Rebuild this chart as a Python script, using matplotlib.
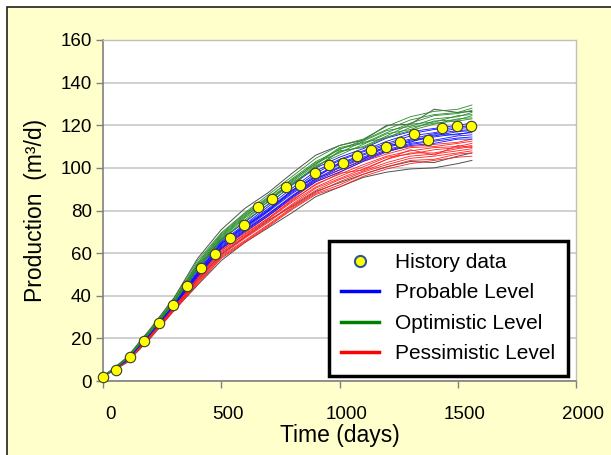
import matplotlib
matplotlib.use("Agg")
import matplotlib.pyplot as plt
import matplotlib.transforms as mtransforms
from matplotlib.patches import Rectangle
from matplotlib.lines import Line2D

plt.rcParams['font.family'] = ['Liberation Sans', 'DejaVu Sans']

# history data
hist_t = [0, 55, 115, 175, 235, 295, 355, 415, 475, 535, 595, 655, 715, 775, 835,
          895, 955, 1015, 1075, 1135, 1195, 1255, 1315, 1375, 1435, 1495, 1555]
hist_q = [2.0, 5.2, 11.4, 18.9, 27.3, 35.6, 44.6, 53.1, 59.5, 67.1, 73.4, 81.5, 85.5,
          90.9, 92.1, 97.4, 101.2, 102.2, 105.8, 108.5, 109.6, 112.1, 116.1, 113.2,
          118.6, 119.7, 119.7]

# simulated runs, sampled at these times
sim_t = [0, 100, 200, 300, 400, 500, 600, 700, 800, 900, 1000, 1100, 1200, 1300, 1400, 1500, 1560]

gray_runs = [
    [2, 11.0, 24.5, 39.0, 57.5, 71.0, 81.0, 88.5, 97.5, 106.0, 110.5, 113.0, 120.0, 120.5, 127.5, 126.0, 126.5],
    [2, 8.5, 20.0, 33.0, 45.0, 56.5, 65.0, 72.0, 79.0, 86.5, 91.0, 95.5, 98.0, 99.5, 100.0, 102.0, 103.5],
    [2, 9.2, 21.0, 34.0, 47.5, 59.5, 67.5, 75.5, 82.0, 89.0, 93.0, 97.0, 100.5, 103.0, 102.5, 105.5, 107.0],
]

optimistic_runs = [
    [2, 10.8, 24.0, 38.5, 56.5, 69.5, 79.0, 87.5, 96.0, 104.5, 110.5, 113.5, 119.5, 124.0, 126.5, 127.5, 129.5],
    [2, 10.6, 23.6, 37.8, 55.0, 68.5, 78.0, 86.0, 95.0, 103.0, 108.5, 113.0, 118.0, 122.5, 125.0, 126.0, 128.0],
    [2, 10.5, 23.4, 37.5, 54.5, 67.5, 77.0, 85.5, 93.5, 101.5, 109.0, 111.5, 116.5, 121.0, 124.5, 125.5, 127.0],
    [2, 10.4, 23.2, 37.0, 53.5, 67.0, 76.5, 84.0, 94.0, 102.5, 107.0, 112.5, 117.5, 119.5, 123.0, 124.0, 126.0],
    [2, 10.3, 23.0, 36.8, 53.0, 66.5, 75.5, 84.5, 92.5, 100.5, 107.5, 110.0, 115.0, 120.5, 121.5, 124.5, 125.0],
    [2, 10.2, 22.8, 36.5, 52.5, 66.0, 75.0, 83.0, 92.0, 101.0, 106.0, 111.0, 116.0, 118.0, 122.0, 122.5, 124.5],
    [2, 10.4, 23.3, 37.2, 54.0, 68.0, 77.5, 85.0, 93.0, 100.0, 108.0, 109.5, 114.5, 117.5, 120.5, 123.0, 123.5],
    [2, 10.6, 23.5, 37.6, 55.5, 69.0, 78.5, 86.5, 94.5, 102.0, 109.5, 112.0, 114.0, 119.0, 121.0, 122.0, 123.0],
]

probable_runs = [
    [2, 10.2, 22.9, 36.6, 53.0, 66.5, 74.5, 83.0, 92.0, 100.0, 105.0, 109.0, 114.0, 117.0, 118.5, 120.0, 121.0],
    [2, 10.1, 22.7, 36.3, 52.5, 65.5, 73.5, 82.0, 90.5, 98.5, 104.0, 108.0, 112.5, 116.0, 118.0, 119.0, 120.0],
    [2, 10.0, 22.6, 36.1, 51.5, 65.0, 73.0, 81.0, 89.5, 97.5, 103.5, 107.5, 111.5, 115.0, 116.5, 118.5, 119.0],
    [2, 10.0, 22.5, 36.0, 51.0, 64.5, 72.5, 80.5, 89.0, 96.5, 102.0, 106.5, 111.0, 113.5, 116.0, 117.5, 118.0],
    [2, 9.9, 22.4, 35.8, 50.5, 64.0, 72.0, 80.0, 88.5, 96.0, 101.5, 106.0, 110.0, 113.0, 115.0, 117.0, 117.5],
    [2, 9.9, 22.3, 35.6, 50.0, 63.5, 71.5, 79.5, 88.0, 95.0, 100.5, 105.0, 109.5, 112.5, 114.5, 116.0, 116.5],
    [2, 9.8, 22.2, 35.5, 49.5, 63.0, 71.0, 78.5, 87.0, 94.5, 100.0, 104.5, 108.5, 111.5, 113.0, 115.0, 115.5],
    [2, 9.8, 22.1, 35.3, 49.5, 62.5, 70.5, 78.0, 86.5, 94.0, 99.0, 103.5, 108.0, 111.0, 112.5, 114.0, 114.5],
    [2, 9.7, 22.0, 35.2, 49.0, 62.0, 70.0, 77.5, 86.0, 93.5, 98.0, 103.0, 107.5, 110.5, 111.5, 113.5, 113.5],
    [2, 9.8, 22.3, 35.6, 50.5, 64.5, 72.5, 80.0, 89.5, 95.5, 102.5, 104.0, 110.5, 112.0, 115.5, 115.5, 117.0],
]

pessimistic_runs = [
    [2, 9.6, 21.6, 34.8, 50.0, 62.5, 70.5, 78.5, 86.5, 95.0, 99.0, 104.0, 108.0, 110.0, 111.0, 112.0, 113.5],
    [2, 9.5, 21.4, 34.5, 49.5, 62.0, 69.5, 77.5, 85.5, 93.5, 98.0, 103.0, 106.5, 109.5, 110.0, 111.5, 112.5],
    [2, 9.4, 21.2, 34.2, 48.5, 61.0, 69.0, 76.5, 84.5, 92.5, 97.0, 101.5, 105.5, 108.0, 109.5, 110.0, 111.5],
    [2, 9.3, 21.0, 34.0, 48.0, 60.5, 68.0, 76.0, 84.0, 91.0, 96.0, 100.5, 105.0, 106.5, 108.5, 109.5, 110.5],
    [2, 9.3, 20.9, 33.8, 47.5, 60.0, 67.5, 75.0, 83.0, 90.5, 95.0, 99.5, 104.0, 107.0, 107.0, 109.0, 110.0],
    [2, 9.2, 20.8, 33.6, 47.0, 59.0, 67.0, 74.5, 82.5, 89.5, 94.5, 98.5, 102.5, 105.5, 106.5, 108.0, 109.0],
    [2, 9.2, 20.7, 33.4, 46.5, 58.5, 66.0, 73.5, 81.5, 88.5, 93.5, 98.0, 101.5, 104.5, 105.5, 107.0, 108.0],
    [2, 9.1, 20.6, 33.2, 46.0, 58.0, 65.5, 73.0, 81.0, 88.0, 92.0, 97.0, 100.5, 103.5, 104.0, 106.5, 107.0],
    [2, 9.0, 20.4, 33.0, 45.5, 57.5, 65.0, 72.5, 80.5, 87.5, 91.0, 96.0, 99.5, 102.0, 103.5, 105.0, 105.5],
    [2, 9.3, 21.1, 34.1, 48.5, 61.5, 68.5, 76.5, 85.0, 92.0, 97.5, 99.0, 104.0, 108.5, 106.0, 110.5, 109.5],
]

x_ticks = [0, 500, 1000, 1500, 2000]
y_ticks = [0, 20, 40, 60, 80, 100, 120, 140, 160]

fig = plt.figure(figsize=(6.11, 4.55), dpi=100, facecolor='white')
# slide panel behind everything
panel = Rectangle((6.5 / 611, -0.1), 1.2, (455 - 7) / 455 + 0.1,
                  transform=fig.transFigure, facecolor='#FFFFCC',
                  edgecolor='#202020', lw=1.2, zorder=-10)
fig.add_artist(panel)

ax = fig.add_axes([103 / 611, (455 - 381) / 455, 473 / 611, 341 / 455])
ax.set_zorder(1)
ax.set_facecolor('white')

for run in gray_runs:
    ax.plot(sim_t, run, color='#505050', lw=0.7, zorder=2)
for run in pessimistic_runs:
    ax.plot(sim_t, run, color='#FF2020', lw=0.6, zorder=3)
for run in probable_runs:
    ax.plot(sim_t, run, color='#1010FF', lw=0.6, zorder=3)
for run in optimistic_runs:
    ax.plot(sim_t, run, color='#2A8C2A', lw=0.6, zorder=3)

ax.plot(hist_t, hist_q, ls='none', marker='o', ms=7.5, mfc='#FFFF00',
        mec='#3a3a30', mew=0.8, zorder=5, clip_on=False)

ax.set_xlim(0, 2000)
ax.set_ylim(0, 160)
ax.set_xticks(x_ticks)
ax.set_yticks(y_ticks)
ax.grid(axis='y', color='#C8C8C8', lw=1.2)
ax.set_axisbelow(True)

for side in ['top', 'right']:
    ax.spines[side].set_color('#C0C0C0')
    ax.spines[side].set_linewidth(1.0)
for side in ['left', 'bottom']:
    ax.spines[side].set_color('#808080')
    ax.spines[side].set_linewidth(1.2)

ax.tick_params(axis='both', direction='out', length=5, width=1, color='#808080',
               labelsize=13.5)
ax.tick_params(axis='y', pad=3)
ax.tick_params(axis='x', pad=13)

shift = mtransforms.ScaledTranslation(7 / 100, 0, fig.dpi_scale_trans)
for lab in ax.get_xticklabels():
    lab.set_transform(lab.get_transform() + shift)

ax.set_xlabel('Time (days)', fontsize=16.5)
ax.set_ylabel('Production  (m³/d)', fontsize=16.5)
ax.xaxis.set_label_coords(0.5, (381 - 424) / 341)
ax.xaxis.label.set_va('top')
ax.yaxis.set_label_coords((47 - 103) / 473, 0.5)

handles = [
    Line2D([], [], ls='none', marker='o', ms=8, mfc='#FFFF00', mec='#2F5597', mew=1.5),
    Line2D([], [], color='#0000FF', lw=2.5),
    Line2D([], [], color='#008000', lw=2.5),
    Line2D([], [], color='#FF0000', lw=2.5),
]
labels = ['History data', 'Probable Level', 'Optimistic Level', 'Pessimistic Level']
leg = ax.legend(handles, labels, loc='lower right', bbox_to_anchor=(0.983, 0.015),
                fontsize=15, frameon=True, fancybox=False, framealpha=1,
                handlelength=1.8, handletextpad=0.8, labelspacing=0.55,
                borderpad=0.6, borderaxespad=0)
leg.get_frame().set_edgecolor('black')
leg.get_frame().set_linewidth(2.5)
leg.set_zorder(10)

fig.savefig('out.png', dpi=100, facecolor=fig.get_facecolor())
